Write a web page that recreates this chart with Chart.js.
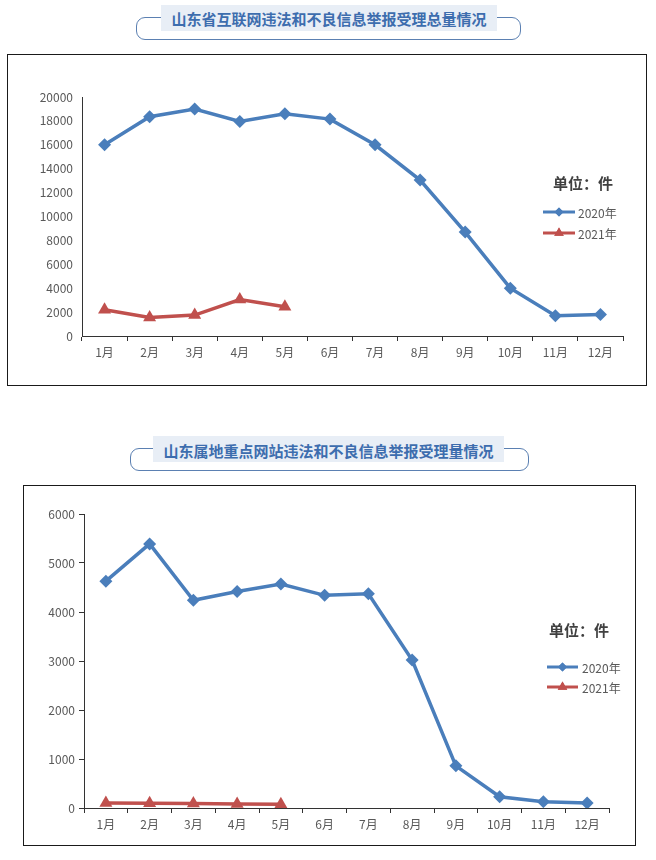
<!DOCTYPE html>
<html>
<head>
<meta charset="utf-8">
<script src="https://cdn.jsdelivr.net/npm/chart.js@4/dist/chart.umd.min.js"></script>
<style>
  body { margin: 0; background: #fff; width: 656px; height: 860px; position: relative; overflow: hidden;
         font-family: "Noto Sans CJK SC", sans-serif; }
  .banner { position: absolute; }
  .banner .outline { position: absolute; border: 1.5px solid #5b80b2; border-radius: 9px; box-sizing: border-box; }
  .banner .bg { position: absolute; background: #e8eef6; color: #3d6dae; font-weight: bold; font-size: 15px;
                text-align: center; box-sizing: border-box; }
  .frame { position: absolute; border: 1px solid #1a1a1a; }
  .frame canvas { display: block; }
</style>
</head>
<body>
<script>
// 数据
const months = ['1月', '2月', '3月', '4月', '5月', '6月', '7月', '8月', '9月', '10月', '11月', '12月'];
const seriesNames = ['2020年', '2021年'];
const total2020 = [16000, 18350, 19000, 17950, 18600, 18150, 16000, 13050, 8700, 4000, 1700, 1800];
const total2021 = [2200, 1550, 1750, 3050, 2450];
const site2020 = [4630, 5390, 4240, 4420, 4570, 4340, 4370, 3020, 860, 230, 130, 100];
const site2021 = [100, 95, 90, 80, 75];
const unitText = '单位：件';
const title1 = '山东省互联网违法和不良信息举报受理总量情况';
const title2 = '山东属地重点网站违法和不良信息举报受理量情况';
</script>

<div class="banner">
  <div class="outline" style="left:136px;top:17px;width:385px;height:23px;"></div>
  <div class="bg" id="t1" style="left:161px;top:5px;width:336px;height:26px;line-height:28px;"></div>
</div>
<div class="banner">
  <div class="outline" style="left:130px;top:448px;width:399px;height:23px;"></div>
  <div class="bg" id="t2" style="left:153px;top:436px;width:351px;height:26px;line-height:30px;"></div>
</div>

<div class="frame" style="left:7px;top:54px;"><canvas id="c1" width="638" height="330"></canvas></div>
<div class="frame" style="left:23px;top:485px;"><canvas id="c2" width="611" height="359"></canvas></div>

<script>
document.getElementById('t1').textContent = title1;
document.getElementById('t2').textContent = title2;

const BLUE = '#4a7ebb';
const RED = '#c0504d';
const TEXT = '#595959';
const FONT = '"Noto Sans CJK SC", sans-serif';

// 图内图例：单位 + 两条系列
const unitLegend = {
  id: 'unitLegend',
  afterDraw(chart, args, opts) {
    const ctx = chart.ctx;
    ctx.save();
    ctx.fillStyle = '#404040';
    ctx.font = 'bold 15px ' + FONT;
    ctx.textAlign = 'center';
    ctx.textBaseline = 'middle';
    ctx.fillText(unitText, opts.titleX, opts.titleY);
    chart.data.datasets.forEach((ds, i) => {
      const y = opts.rowY[i];
      ctx.strokeStyle = ds.borderColor;
      ctx.lineWidth = 3;
      ctx.beginPath();
      ctx.moveTo(opts.lineX, y);
      ctx.lineTo(opts.lineX + opts.lineW, y);
      ctx.stroke();
      ctx.fillStyle = ds.borderColor;
      ctx.beginPath();
      Chart.helpers.drawPoint(ctx, {
        pointStyle: ds.pointStyle, radius: ds.pointStyle === 'triangle' ? 5.5 : 4.5, borderWidth: 0
      }, opts.lineX + opts.lineW / 2, y);
      ctx.fill();
      ctx.fillStyle = TEXT;
      ctx.font = '12px ' + FONT;
      ctx.textAlign = 'left';
      ctx.fillText(ds.label, opts.textX, y + 1);
    });
    ctx.restore();
  }
};

function makeChart(id, d2020, d2021, cfg) {
  return new Chart(document.getElementById(id), {
    type: 'line',
    data: {
      labels: months,
      datasets: [
        { label: seriesNames[0], data: d2020, borderColor: BLUE, backgroundColor: BLUE,
          borderWidth: 3.5, pointStyle: 'rectRot', pointRadius: 6.5, pointBorderWidth: 0 },
        { label: seriesNames[1], data: d2021, borderColor: RED, backgroundColor: RED,
          borderWidth: 3.5, pointStyle: 'triangle', pointRadius: 7.5, pointBorderWidth: 0 }
      ]
    },
    options: {
      responsive: false,
      animation: false,
      layout: { padding: { left: 0, top: cfg.top, right: cfg.right, bottom: 0 } },
      plugins: { legend: { display: false }, tooltip: { enabled: false }, unitLegend: cfg.legend },
      scales: {
        x: {
          offset: true,
          grid: { offset: true, drawOnChartArea: false, drawTicks: true, tickLength: 5, color: '#333' },
          border: { color: '#333', width: 1 },
          ticks: { color: TEXT, font: { size: 12, family: FONT }, padding: 4, maxRotation: 0 },
          afterFit(s) { s.height = cfg.xH; }
        },
        y: {
          min: 0, max: cfg.max,
          ticks: { stepSize: cfg.step, color: TEXT, font: { size: 12, family: FONT }, padding: cfg.yPad,
                   callback: v => String(v) },
          grid: { drawOnChartArea: false, drawTicks: cfg.yTicks, tickLength: 5, color: '#333' },
          border: { color: '#333', width: 1 },
          afterFit(s) { s.width = cfg.yW; }
        }
      }
    },
    plugins: [unitLegend]
  });
}

makeChart('c1', total2020, total2021, {
  top: 42, right: 23, xH: 49, yW: 74, max: 20000, step: 2000, yTicks: false, yPad: 9,
  legend: { titleX: 575, titleY: 128, lineX: 535, lineW: 32, textX: 570, rowY: [157, 178] }
});
makeChart('c2', site2020, site2021, {
  top: 28, right: 26, xH: 37, yW: 60, max: 6000, step: 1000, yTicks: true, yPad: 4,
  legend: { titleX: 555, titleY: 144, lineX: 523, lineW: 31, textX: 558, rowY: [181, 201] }
});
</script>
</body>
</html>
